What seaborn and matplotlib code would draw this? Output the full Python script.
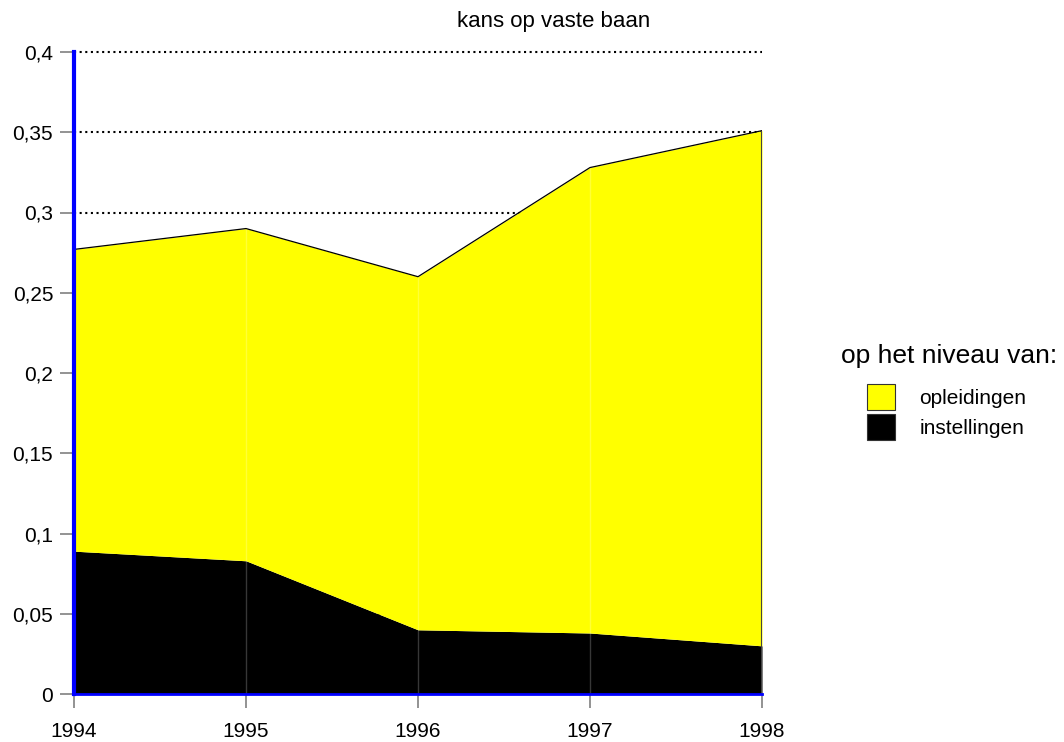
"""Stacked area chart: kans op vaste baan."""

import numpy as np
import pandas as pd
import seaborn as sns
import matplotlib.pyplot as plt
from matplotlib.patches import Patch
from matplotlib.ticker import FuncFormatter

# -----------------------------------------------------------------------------

years = [1994, 1995, 1996, 1997, 1998]
instellingen = [0.089, 0.083, 0.040, 0.038, 0.030]
totaal = [0.277, 0.290, 0.260, 0.328, 0.351]
opleidingen = [t - i for t, i in zip(totaal, instellingen)]

series_labels = ['opleidingen', 'instellingen']
series_colors = ['#FFFF00', '#000000']
y_ticks = [0, 0.05, 0.1, 0.15, 0.2, 0.25, 0.3, 0.35, 0.4]

df = pd.DataFrame({'jaar': years, 'totaal': totaal})

# -----------------------------------------------------------------------------

sns.set_style('white')
plt.rcParams['font.family'] = ['Liberation Sans', 'DejaVu Sans']
plt.rcParams['text.color'] = 'black'

fig = plt.figure(figsize=(10.64, 7.42), dpi=100)
ax = fig.add_axes([74 / 1064, 1 - 694 / 742, (762 - 74) / 1064, (694 - 52) / 742])

# Dotted grid behind the areas.
for v in y_ticks[1:]:
    ax.axhline(v, color='black', linestyle=(0, (1, 1.7)), linewidth=1.5,
               zorder=0, clip_on=False)

# Stacked areas: instellingen at the bottom, opleidingen on top.
ax.stackplot(years, instellingen, opleidingen,
             colors=[series_colors[1], series_colors[0]], zorder=1, linewidth=0)
sns.lineplot(data=df, x='jaar', y='totaal', color='black', linewidth=0.9, ax=ax, zorder=2)

# Faint vertical separators at each year.
for yr, top in zip(years[1:-1], totaal[1:-1]):
    ax.vlines(yr, 0, top, color='white', alpha=0.22, linewidth=1, zorder=2)
ax.vlines(years[-1], 0, totaal[-1], color='#444444', linewidth=1.5, zorder=3)

ax.set_xlim(years[0], years[-1])
ax.set_ylim(0, 0.4)
ax.set_xticks(years)
ax.set_xticklabels([str(y) for y in years])
ax.set_yticks(y_ticks)
ax.yaxis.set_major_formatter(FuncFormatter(lambda v, p: f'{v:g}'.replace('.', ',')))
ax.set_xlabel('')
ax.set_ylabel('')

for s in ['top', 'right']:
    ax.spines[s].set_visible(False)
ax.spines['left'].set_color('#0000FF')
ax.spines['left'].set_linewidth(3)
ax.spines['bottom'].set_color('#0000FF')
ax.spines['bottom'].set_linewidth(2)
ax.spines['left'].set_zorder(4)
ax.spines['bottom'].set_zorder(4)

ax.tick_params(axis='both', which='major', direction='out', length=10, width=1.2,
               color='#808080', labelsize=15, labelcolor='black',
               left=True, bottom=True)
ax.tick_params(axis='y', pad=5)
ax.tick_params(axis='x', pad=10)

fig.text(554 / 1064, 1 - 22 / 742, 'kans op vaste baan', ha='center', va='center', fontsize=16)

# Legend: title as separate text, entries below it.
fig.text(949 / 1064, 1 - 363 / 742, 'op het niveau van:', ha='center', va='baseline',
         fontsize=19)
handles = [Patch(facecolor=c, edgecolor='#333333', linewidth=0.8) for c in series_colors]
ax.legend(handles, series_labels, frameon=False,
          loc='center left', bbox_to_anchor=(867 / 1064, 1 - 412 / 742),
          bbox_transform=fig.transFigure, fontsize=15,
          handlelength=1.32, handleheight=1.5, labelspacing=0.22, handletextpad=1.2,
          borderaxespad=0, borderpad=0)

fig.savefig('out.png', dpi=100)
